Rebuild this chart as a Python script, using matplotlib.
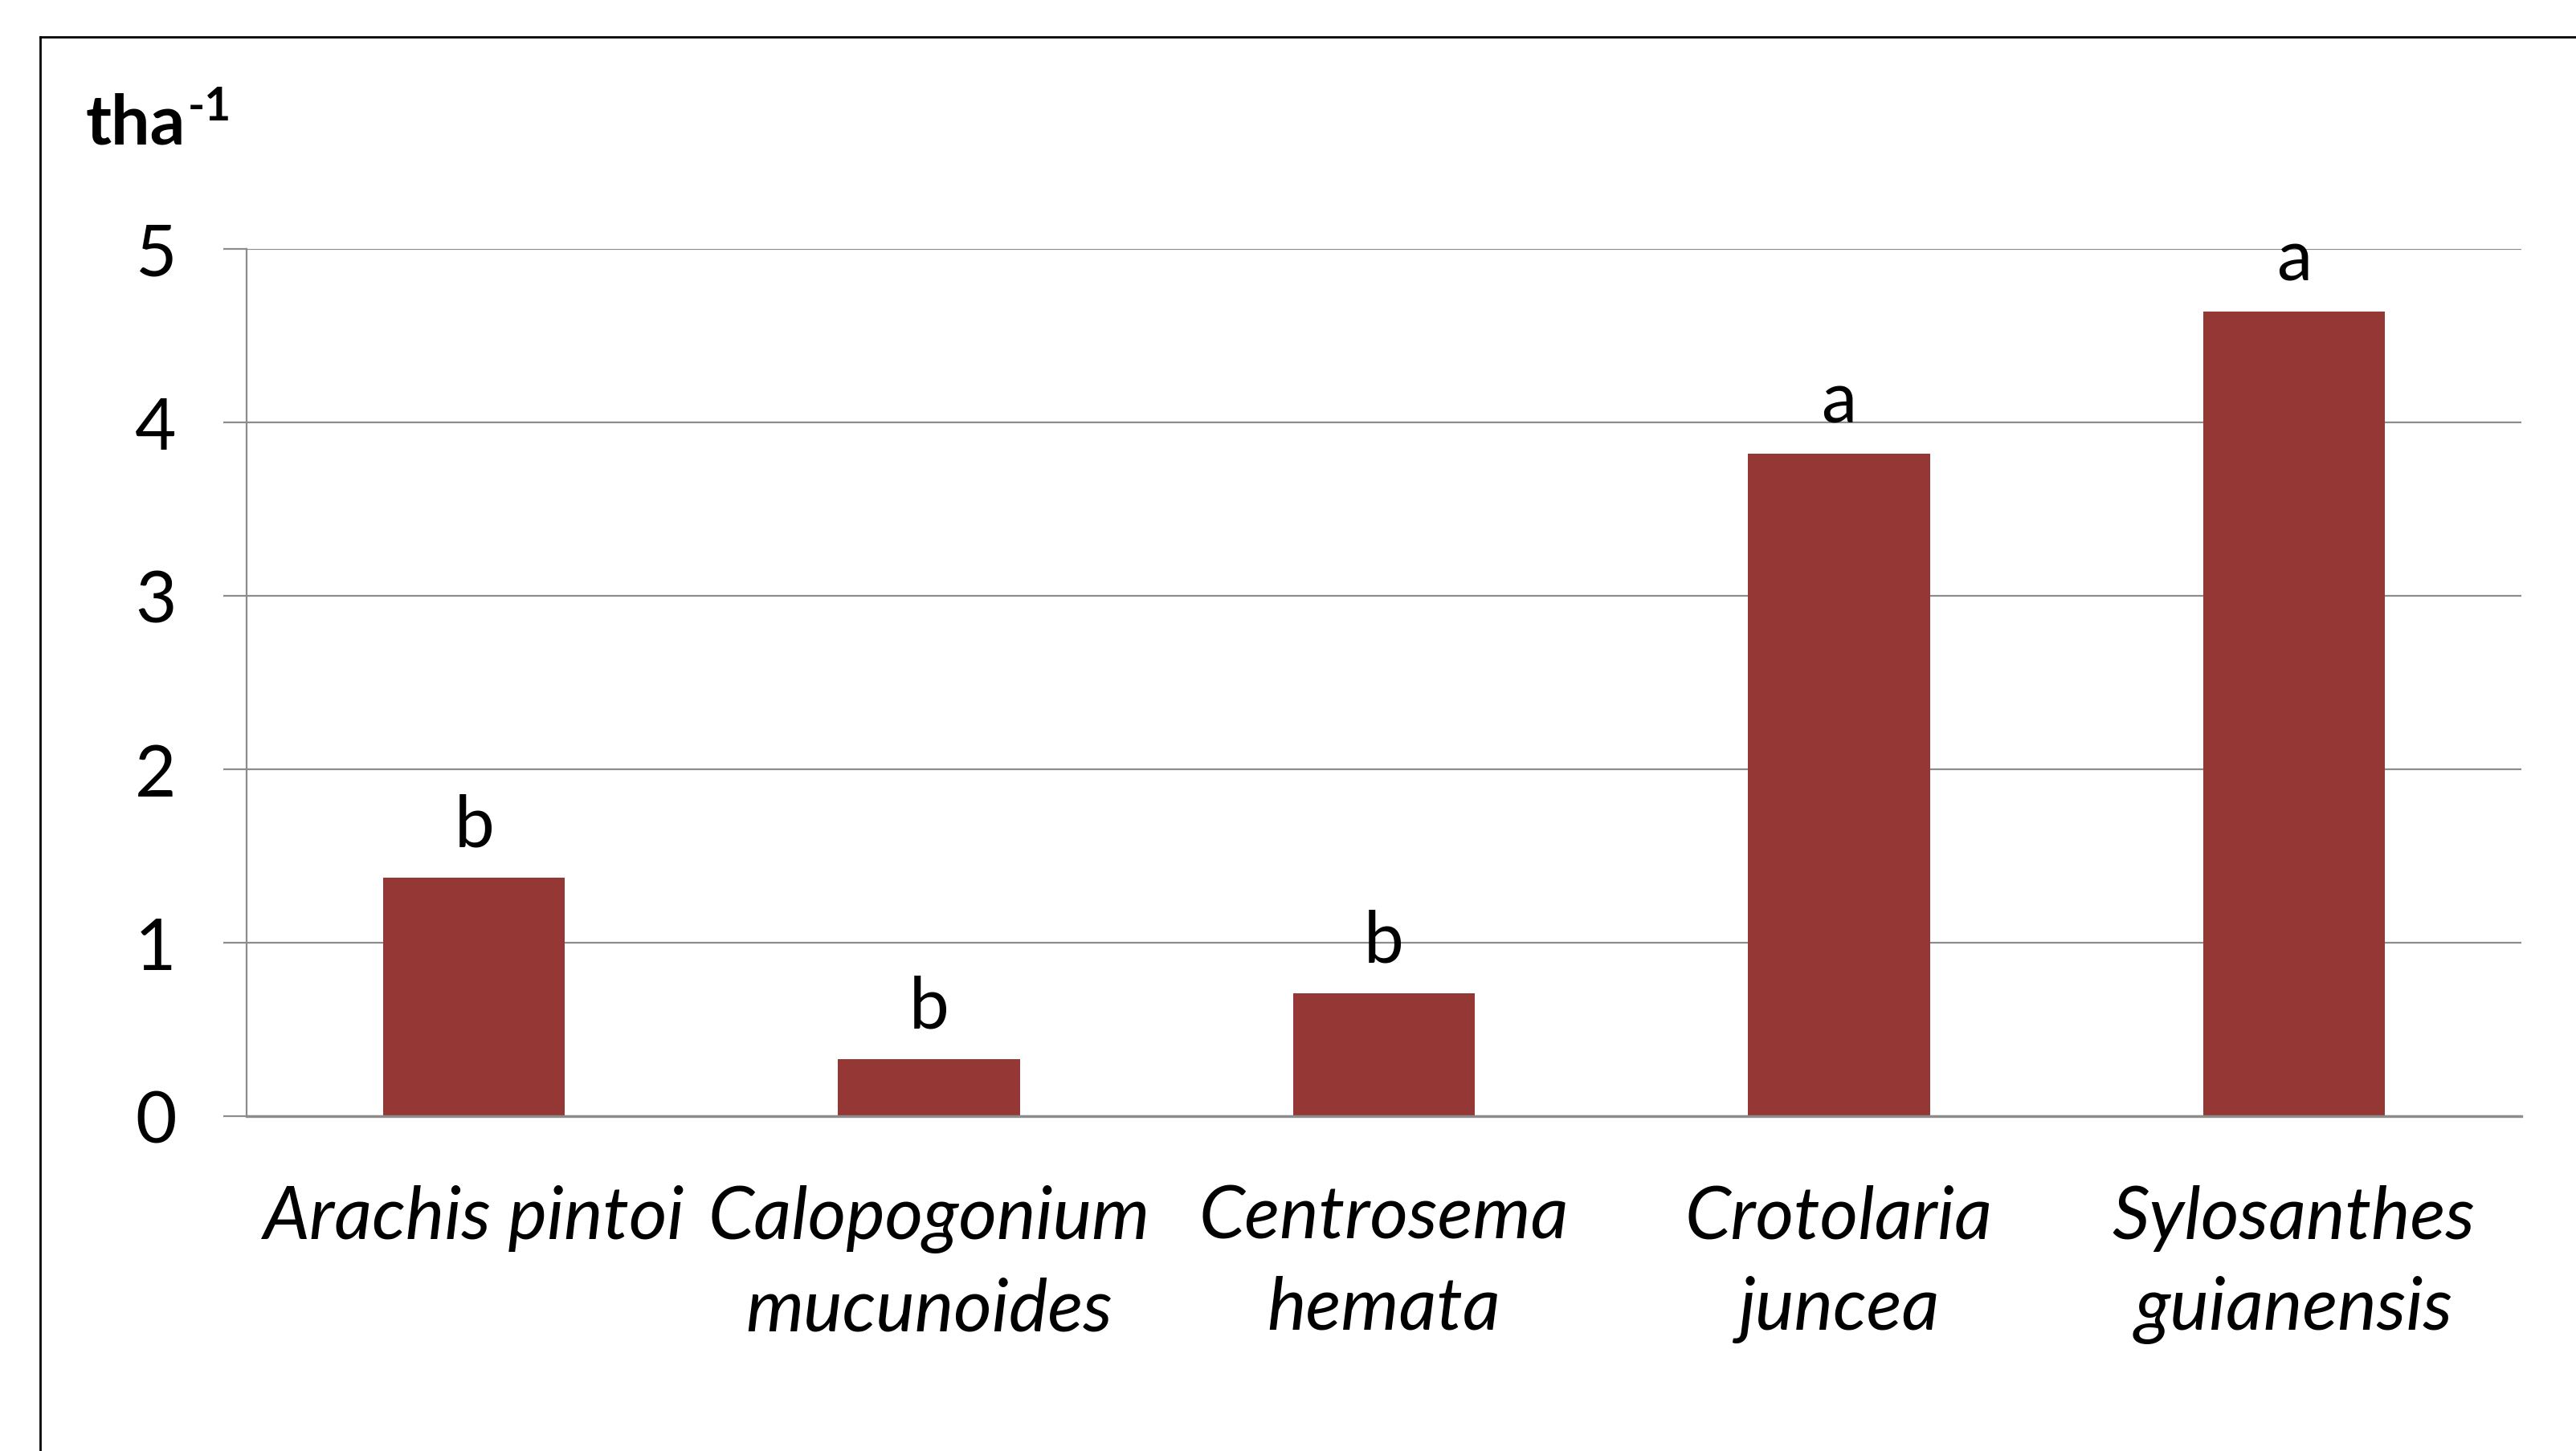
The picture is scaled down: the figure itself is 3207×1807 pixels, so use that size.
import matplotlib
matplotlib.use("Agg")
import matplotlib.pyplot as plt
from matplotlib.lines import Line2D

categories = ["Arachis pintoi", "Calopogonium\nmucunoides", "Centrosema\nhemata",
              "Crotolaria\njuncea", "Sylosanthes\nguianensis"]
values = [1.375, 0.33, 0.71, 3.82, 4.64]
letters = ["b", "b", "b", "a", "a"]
yticks = [0, 1, 2, 3, 4, 5]

FONT = "Lato"
BAR = "#953735"
GRID = "#8c8c8c"

W, H = 3207, 1808
fig = plt.figure(figsize=(W / 100, H / 100), dpi=100)
fig.patch.set_facecolor("white")

# outer chart border (top and left visible)
fig.add_artist(Line2D([50 / W, 1.0], [1 - 47 / H, 1 - 47 / H], transform=fig.transFigure,
                      color="black", lw=2.0))
fig.add_artist(Line2D([50 / W, 50 / W], [1 - 47 / H, 0.0], transform=fig.transFigure,
                      color="black", lw=2.0))

left, right = 307 / W, 3139 / W
bottom, top = 1 - 1391 / H, 1 - 311 / H
ax = fig.add_axes([left, bottom, right - left, top - bottom])

x = list(range(len(categories)))
ax.bar(x, values, width=0.4, color=BAR, zorder=3)
ax.set_xlim(-0.5, len(categories) - 0.5)
ax.set_ylim(0, 5)

ax.set_yticks(yticks)
ax.set_yticklabels([str(t) for t in yticks], fontfamily=FONT, fontsize=64)
ax.yaxis.grid(True, color=GRID, lw=1.6, zorder=0)
ax.tick_params(axis="y", length=21, width=1.6, color=GRID, pad=42)

ax.set_xticks(x)
ax.set_xticklabels(categories, fontfamily=FONT, fontsize=66, style="italic", linespacing=1.45)
ax.tick_params(axis="x", length=0, pad=61)

for s in ["top", "right"]:
    ax.spines[s].set_visible(False)
ax.spines["left"].set_color(GRID)
ax.spines["left"].set_linewidth(1.6)
ax.spines["bottom"].set_color(GRID)
ax.spines["bottom"].set_linewidth(2.4)
ax.spines["bottom"].set_zorder(4)

for xi, v, l in zip(x, values, letters):
    ax.annotate(l, (xi, v), xytext=(0, 17), textcoords="offset points",
                ha="center", va="bottom", fontfamily=FONT, fontsize=64)

fig.text(106 / W, 1 - 180 / H, "tha", fontfamily=FONT, fontweight="bold", fontsize=62,
         ha="left", va="baseline")
fig.text(234 / W, 1 - 150 / H, "-1", fontfamily=FONT, fontweight="bold", fontsize=41,
         ha="left", va="baseline")

fig.savefig("out.png", dpi=100, facecolor="white")
